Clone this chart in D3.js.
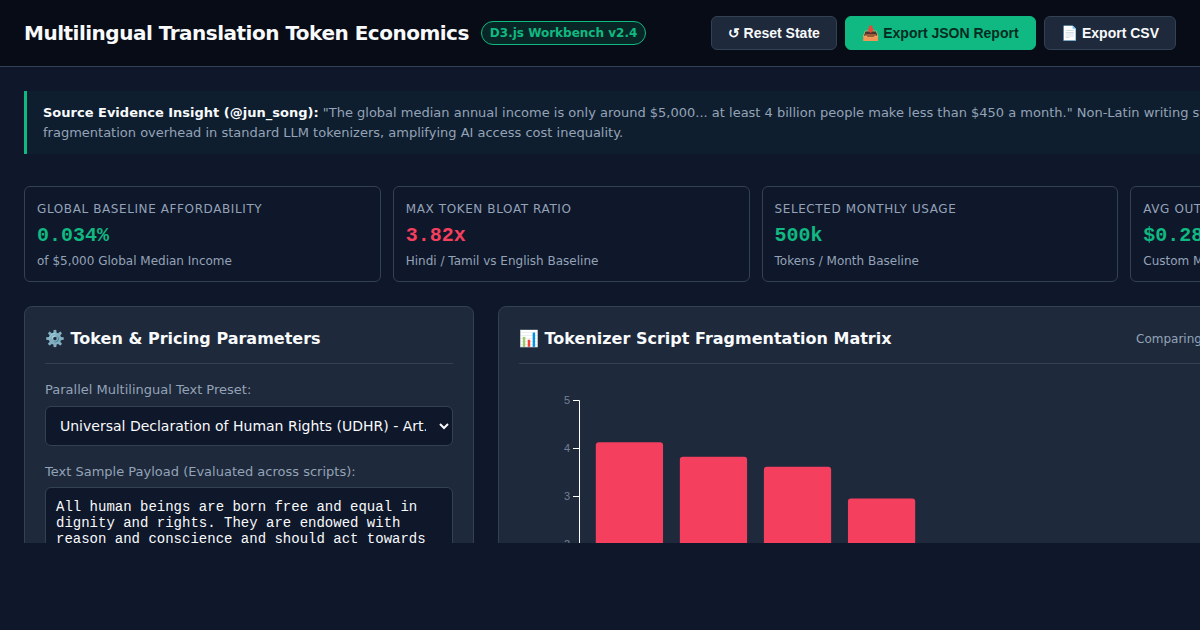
<!DOCTYPE html>
<html>
<head>
<meta charset="utf-8">
<title>Multilingual Translation Token Economics</title>
<script src="https://cdn.jsdelivr.net/npm/d3@7"></script>
<style>
* { box-sizing: border-box; }
html, body { margin: 0; height: 100%; overflow: hidden; background: #0f172a; color-scheme: dark; }
body { font-family: "DejaVu Sans", sans-serif; color: #f8fafc; }
#page { position: absolute; left: 0; top: 0; width: 1200px; height: 543px; overflow: hidden; }
#inner { width: 1511px; }
header { width: 1200px; height: 67px; padding: 0 24px; display: flex; align-items: center; justify-content: space-between;
  background: #080c16; border-bottom: 1px solid #334155; }
.head-left { display: flex; align-items: center; gap: 12px; }
h1 { margin: 0; font-size: 20px; font-weight: 700; letter-spacing: -.5px; }
.badge { font-size: 12px; line-height: 14px; font-weight: 700; color: #10b981; background: rgba(16,185,129,.15); border: 1px solid #10b981;
  border-radius: 12px; padding: 4px 8px; }
.buttons { display: flex; gap: 8px; }
button { font-family: "Liberation Sans", sans-serif; font-size: 14px; font-weight: 700; height: 34px; padding: 0 16px;
  border-radius: 6px; border: 1px solid #334155; background: #1e293b; color: #f8fafc; }
button.primary { background: #10b981; border-color: #10b981; color: #022c22; padding: 0 16.5px; }
#insight { margin: 24px 24px 0; height: 63px; padding: 12px 16px; border-left: 3px solid #10b981;
  background: rgba(16,185,129,.05); font-size: 13px; line-height: 20px; color: #94a3b8; white-space: nowrap; }
#insight strong { color: #f8fafc; }
#cards { margin: 32px 24px 0; display: grid; grid-template-columns: repeat(4, 1fr); gap: 12px; }
.card { height: 96px; padding: 12px; border: 1px solid #334155; border-radius: 6px; background: #0f172a; }
.card .label { font-size: 12px; letter-spacing: .6px; color: #94a3b8; line-height: 18px; margin-top: .5px; text-transform: uppercase; }
.card .value { font-family: "Liberation Mono", monospace; font-size: 20px; font-weight: 700; line-height: 24px; margin-top: 6.5px; }
.card .note { font-size: 12px; color: #94a3b8; line-height: 18px; margin-top: 3.5px; }
#panels { margin: 24px 24px 0; display: grid; grid-template-columns: 450px 1fr; gap: 24px; }
.panel { height: 500px; padding: 20px; background: #1e293b; border: 1px solid #334155; border-radius: 8px; }
.panel-head { position: relative; height: 37px; border-bottom: 1px solid #334155; }
h2 { margin: 0; padding-top: 1px; font-size: 16px; font-weight: 700; line-height: 22px; }
.panel-head span { position: absolute; left: 617px; top: 1px; font-size: 12px; color: #94a3b8; line-height: 22px; }
label { display: block; font-size: 13px; color: #94a3b8; line-height: 16px; }
select { display: block; width: 100%; height: 40px; margin-top: 8px; padding: 0 10px; font: 14px "DejaVu Sans", sans-serif;
  color: #f8fafc; background: #0f172a; border: 1px solid #334155; border-radius: 6px; }
textarea { display: block; width: 100%; height: 120px; margin-top: 7px; padding: 11px 10px; font: 14px/16px "Liberation Mono", monospace;
  color: #f8fafc; background: #0f172a; border: 1px solid #334155; border-radius: 6px; resize: none; }
#chart { display: block; margin-top: 0; }
#chart .tick text { fill: #718096; font-family: "Liberation Sans", sans-serif; font-size: 11px; }
#chart .domain, #chart .tick line { stroke: #ffffff; }
</style>
</head>
<body>
<div id="page"><div id="inner">
  <header>
    <div class="head-left">
      <h1>Multilingual Translation Token Economics</h1>
      <span class="badge">D3.js Workbench v2.4</span>
    </div>
    <div class="buttons">
      <button>↺ Reset State</button>
      <button class="primary">📥 Export JSON Report</button>
      <button>📄 Export CSV</button>
    </div>
  </header>
  <div id="insight"><strong>Source Evidence Insight (@jun_song):</strong> "The global median annual income is only around $5,000... at least 4 billion people make less than $450 a month." Non-Latin writing systems<br>fragmentation overhead in standard LLM tokenizers, amplifying AI access cost inequality.</div>
  <div id="cards"></div>
  <div id="panels">
    <div class="panel">
      <div class="panel-head"><h2>⚙️ Token &amp; Pricing Parameters</h2></div>
      <label style="margin-top:18px">Parallel Multilingual Text Preset:</label>
      <select><option>Universal Declaration of Human Rights (UDHR) - Art. 1</option></select>
      <label style="margin-top:18px">Text Sample Payload (Evaluated across scripts):</label>
      <textarea>All human beings are born free and equal in dignity and rights. They are endowed with reason and conscience and should act towards one another in a spirit of brotherhood.</textarea>
    </div>
    <div class="panel">
      <div class="panel-head"><h2>📊 Tokenizer Script Fragmentation Matrix</h2><span>Comparing</span></div>
      <svg id="chart"></svg>
    </div>
  </div>
</div></div>
<script>
const cardLabels = ["Global Baseline Affordability", "Max Token Bloat Ratio", "Selected Monthly Usage", "Avg Output Cost"];
const cardValues = ["0.034%", "3.82x", "500k", "$0.28"];
const cardNotes = ["of $5,000 Global Median Income", "Hindi / Tamil vs English Baseline", "Tokens / Month Baseline", "Custom Model"];
const cardColors = ["#10b981", "#f43f5e", "#10b981", "#10b981"];

// the category labels sit below the cropped edge of the picture, so these are only keys
const scriptKeys = ["script1", "script2", "script3", "script4"];
const bloatValues = [4.12, 3.82, 3.61, 2.95];
const yTicks = [0, 1, 2, 3, 4, 5];

const WIDTH = 700;
const HEIGHT = 300;
const LEFT_PADDING = 60;
const TOP_PADDING = 36;
const PLOT_HEIGHT = 240;
const PLOT_WIDTH = 353;

const cards = d3.select("#cards").selectAll(".card")
    .data(cardLabels)
    .join("div")
    .attr("class", "card");
cards.append("div").attr("class", "label").text(d => d);
cards.append("div").attr("class", "value")
    .style("color", (_, i) => cardColors[i])
    .text((_, i) => cardValues[i]);
cards.append("div").attr("class", "note").text((_, i) => cardNotes[i]);

const xScale = d3.scaleBand().domain(scriptKeys).range([0, PLOT_WIDTH]).padding(0.2);
const yScale = d3.scaleLinear().domain([0, 5]).range([PLOT_HEIGHT, 0]);

const svg = d3.select("#chart").attr("width", WIDTH).attr("height", HEIGHT);
const plot = svg.append("g").attr("transform", `translate(${LEFT_PADDING},${TOP_PADDING})`);

plot.selectAll(".bar")
    .data(scriptKeys)
    .join("rect")
    .attr("class", "bar")
    .attr("fill", "#f43f5e")
    .attr("rx", 3)
    .attr("x", d => xScale(d))
    .attr("width", xScale.bandwidth())
    .attr("y", (_, i) => yScale(bloatValues[i]))
    .attr("height", (_, i) => PLOT_HEIGHT - yScale(bloatValues[i]));

plot.append("g").call(d3.axisLeft(yScale).tickValues(yTicks).tickFormat(d3.format("d")));
</script>
</body>
</html>
